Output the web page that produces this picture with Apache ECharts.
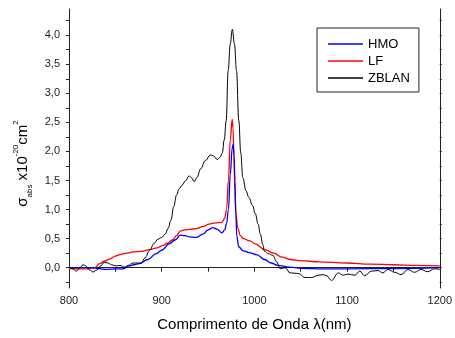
<!DOCTYPE html>
<html>
<head>
<meta charset="utf-8">
<script src="https://cdn.jsdelivr.net/npm/echarts@6/dist/echarts.min.js"></script>
<style>
  html, body { margin: 0; padding: 0; background: #fff; }
  #chart { width: 455px; height: 338px; }
</style>
</head>
<body>
<div id="chart"></div>
<script>
// absorption cross section (x10^-20 cm^2) vs wavelength (nm)
const hmoWl = [800, 810, 820, 830, 840, 850, 858, 865, 870, 876, 885, 894, 900, 908, 915, 920, 925, 930, 937, 945, 950, 955, 960, 965, 968, 970, 972, 974, 976, 977, 978, 979, 980, 981, 983, 988, 994, 1003, 1011, 1018, 1025, 1038, 1050, 1075, 1100, 1150, 1200];
const hmoAbs = [0.0, 0.0, 0.0, -0.01, -0.03, -0.02, -0.02, 0.03, 0.05, 0.07, 0.14, 0.24, 0.30, 0.41, 0.48, 0.56, 0.55, 0.53, 0.52, 0.58, 0.65, 0.69, 0.66, 0.60, 0.65, 0.76, 1.0, 1.6, 2.05, 2.12, 1.95, 1.5, 0.9, 0.55, 0.36, 0.29, 0.26, 0.22, 0.14, 0.08, 0.04, 0.01, -0.01, -0.02, -0.02, -0.015, 0.0];

const lfWl = [800, 810, 820, 828, 833, 838, 844, 850, 856, 862, 869, 877, 887, 895, 901, 906, 912, 916, 920, 925, 930, 937, 945, 951, 958, 965, 968, 970, 972, 974, 976, 977, 978, 979, 980, 982, 985, 988, 995, 1001, 1011, 1021, 1030, 1039, 1050, 1070, 1100, 1125, 1150, 1175, 1200];
const lfAbs = [-0.01, -0.02, -0.02, 0.0, 0.07, 0.11, 0.15, 0.20, 0.23, 0.25, 0.27, 0.28, 0.31, 0.34, 0.38, 0.42, 0.48, 0.55, 0.63, 0.65, 0.66, 0.67, 0.71, 0.75, 0.77, 0.78, 0.85, 1.0, 1.5, 2.2, 2.55, 2.4, 1.9, 1.3, 0.95, 0.68, 0.55, 0.50, 0.46, 0.41, 0.31, 0.25, 0.18, 0.14, 0.12, 0.10, 0.08, 0.06, 0.05, 0.04, 0.03];

const zblanWl = [800, 804, 808, 812, 815, 818, 822, 826, 830, 834, 838, 842, 846, 851, 855, 860, 864, 869, 874, 878, 882, 887, 892, 896, 900, 904, 907, 910, 913, 916, 919, 922, 926, 929.5, 932, 935, 938, 942, 947, 952.8, 956, 960, 963, 965.3, 967.5, 969.6, 971.7, 974, 976.2, 978.5, 980.7, 983.2, 985.3, 987.5, 991, 994, 998, 1001, 1004, 1006.4, 1009, 1011, 1015, 1020, 1024, 1028, 1033, 1038.6, 1047.5, 1054.7, 1061.8, 1069, 1074.4, 1078, 1083.3, 1090.5, 1095.8, 1101, 1108.4, 1113.7, 1119, 1126.2, 1133.4, 1138.7, 1144, 1151.3, 1158.4, 1165.6, 1172.7, 1179.9, 1187, 1194.2, 1200];
const zblanAbs = [0.01, -0.02, -0.06, 0.0, 0.05, 0.03, -0.04, -0.075, -0.04, 0.03, 0.09, 0.08, 0.05, 0.03, 0.04, 0.01, 0.04, 0.08, 0.08, 0.08, 0.17, 0.30, 0.42, 0.49, 0.52, 0.58, 0.68, 0.82, 1.05, 1.25, 1.36, 1.42, 1.50, 1.58, 1.55, 1.48, 1.55, 1.70, 1.84, 1.94, 1.92, 1.86, 1.90, 1.97, 2.2, 2.53, 3.39, 3.85, 4.1, 3.85, 3.39, 2.53, 1.97, 1.55, 1.32, 1.21, 1.07, 0.93, 0.75, 0.58, 0.40, 0.28, 0.24, 0.21, 0.10, -0.02, 0.0, -0.09, -0.10, -0.17, -0.17, -0.13, -0.12, -0.14, -0.22, -0.09, -0.13, -0.11, -0.13, -0.06, -0.14, -0.06, -0.05, -0.09, -0.03, -0.08, -0.12, -0.03, -0.08, -0.03, -0.07, -0.02, -0.03];

const xLabels = [800, 900, 1000, 1100, 1200];
const xTicks = [800, 850, 900, 950, 1000, 1050, 1100, 1150, 1200];
const yLabels = [0, 0.5, 1, 1.5, 2, 2.5, 3, 3.5, 4];
const yTicks = [-0.25, 0, 0.25, 0.5, 0.75, 1, 1.25, 1.5, 1.75, 2, 2.25, 2.5, 2.75, 3, 3.25, 3.5, 3.75, 4, 4.25];

const zip = (xs, ys) => xs.map((x, i) => [x, ys[i]]);
const font = '"Liberation Sans", Arial, sans-serif';
const axisColor = '#222';

const chart = echarts.init(document.getElementById('chart'));
chart.setOption({
  animation: false,
  backgroundColor: '#fff',
  textStyle: { fontFamily: font },
  grid: { left: 69, right: 13, top: 9, bottom: 50 },
  legend: {
    orient: 'vertical',
    left: 317,
    top: 28,
    padding: [9, 9, 7, 11],
    icon: 'rect',
    itemWidth: 35,
    itemHeight: 1.3,
    itemGap: 3,
    borderColor: axisColor,
    borderWidth: 1,
    backgroundColor: '#fff',
    textStyle: { fontSize: 13, lineHeight: 14, color: '#000', fontFamily: font },
    data: ['HMO', 'LF', 'ZBLAN']
  },
  xAxis: [{
    type: 'value',
    min: 800,
    max: 1200,
    splitLine: { show: false },
    axisLine: { lineStyle: { color: axisColor } },
    axisTick: { inside: false, length: 4, customValues: xTicks, lineStyle: { color: axisColor } },
    axisLabel: { customValues: xLabels, fontSize: 11, color: '#222', margin: 7, formatter: v => String(v) },
    name: 'Comprimento de Onda λ(nm)',
    nameLocation: 'middle',
    nameGap: 29,
    nameTextStyle: { fontSize: 15, color: '#000' }
  }, {
    type: 'value',
    position: 'top',
    min: 800,
    max: 1200,
    splitLine: { show: false },
    axisLine: { show: true, lineStyle: { color: axisColor } },
    axisTick: { show: false },
    axisLabel: { show: false }
  }],
  yAxis: [{
    type: 'value',
    min: -0.35,
    max: 4.45,
    splitLine: { show: false },
    axisLine: { show: true, lineStyle: { color: axisColor } },
    axisTick: { show: true, length: 3, customValues: yTicks, lineStyle: { color: axisColor } },
    axisLabel: {
      customValues: yLabels,
      fontSize: 11,
      color: '#222',
      margin: 9,
      formatter: v => v.toFixed(1).replace('.', ',')
    },
    name: '{m|σ}{sub|abs}{m| x10}{sup|-20}{m|cm}{sup|2}',
    nameLocation: 'middle',
    nameRotate: 90,
    nameGap: 30,
    nameTextStyle: {
      padding: [0, 30, 0, 0],
      rich: {
        m: { fontSize: 15, color: '#000', lineHeight: 22, verticalAlign: 'middle' },
        sub: { fontSize: 8, color: '#000', lineHeight: 22, verticalAlign: 'bottom' },
        sup: { fontSize: 8, color: '#000', lineHeight: 22, verticalAlign: 'top' }
      }
    }
  }, {
    type: 'value',
    position: 'right',
    min: -0.35,
    max: 4.45,
    splitLine: { show: false },
    axisLine: { show: true, lineStyle: { color: axisColor } },
    axisTick: { show: true, length: 2, customValues: yTicks, lineStyle: { color: axisColor } },
    axisLabel: { show: false }
  }],
  series: [{
    name: 'HMO',
    type: 'line',
    data: zip(hmoWl, hmoAbs),
    symbol: 'none',
    smooth: 0.4,
    smoothMonotone: 'x',
    lineStyle: { color: '#0000ff', width: 1.3 },
    itemStyle: { color: '#0000ff' },
    z: 3
  }, {
    name: 'LF',
    type: 'line',
    data: zip(lfWl, lfAbs),
    symbol: 'none',
    smooth: 0.4,
    smoothMonotone: 'x',
    lineStyle: { color: '#ff0000', width: 1.3 },
    itemStyle: { color: '#ff0000' },
    z: 2
  }, {
    name: 'ZBLAN',
    type: 'line',
    data: zip(zblanWl, zblanAbs),
    symbol: 'none',
    smooth: 0.4,
    smoothMonotone: 'x',
    lineStyle: { color: '#000000', width: 1 },
    itemStyle: { color: '#000000' },
    z: 4
  }]
});
</script>
</body>
</html>
